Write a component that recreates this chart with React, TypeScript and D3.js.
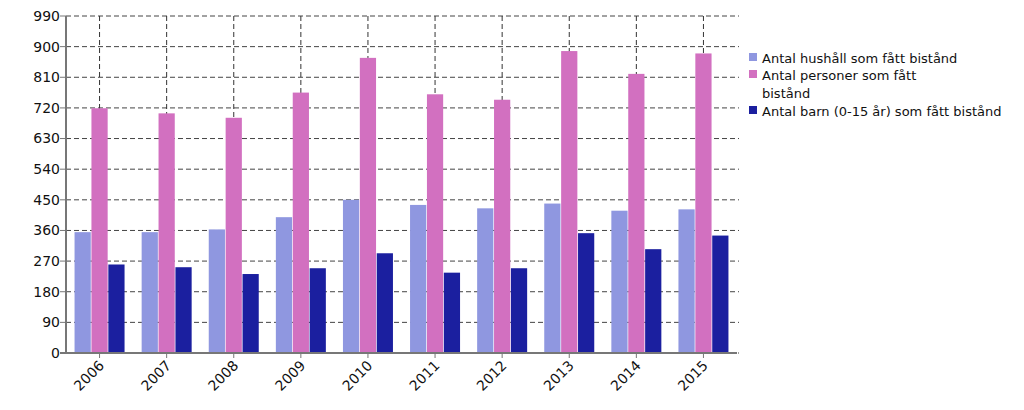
import React from "react";
import * as d3 from "d3";

const years = ["2006","2007","2008","2009","2010","2011","2012","2013","2014","2015"];
const hushall = [355, 355, 363, 399, 450, 435, 425, 439, 418, 422];
const personer = [719, 704, 691, 765, 867, 760, 744, 887, 820, 880];
const barn = [260, 252, 232, 249, 293, 236, 249, 352, 305, 345];
const yTicks = [0, 90, 180, 270, 360, 450, 540, 630, 720, 810, 900, 990];
const seriesNames = [
  ["Antal hushåll som fått bistånd"],
  ["Antal personer som fått", "bistånd"],
  ["Antal barn (0-15 år) som fått bistånd"],
];
const colors = ["#8f97e0", "#d270c0", "#1b1f9f"];

export default function App() {
  const W = 1024, H = 410;
  const left = 66, right = 737, top = 16, bottom = 353;
  const x = d3.scaleBand().domain(years).range([left, right]).paddingInner(0.25).paddingOuter(0.125);
  const step = (right - left) / years.length;
  const y = d3.scaleLinear().domain([0, 990]).range([bottom, top]);
  const series = [hushall, personer, barn];
  const groupW = 50;
  const x1 = d3.scaleBand().domain(["0", "1", "2"]).range([0, groupW]).paddingInner(0.04);
  const center = (yr: string) => left + step * (years.indexOf(yr) + 0.5);
  const font = "DejaVu Sans, Verdana, sans-serif";
  return (
    <svg width={W} height={H} style={{ position: "absolute", left: 0, top: 0 }} fontFamily={font}>
      <rect width={W} height={H} fill="#fff" />
      {yTicks.map((t) => (
        <line key={"h" + t} x1={left} x2={right + 2} y1={y(t)} y2={y(t)} stroke="#444" strokeDasharray="5,3" strokeWidth={1} />
      ))}
      {years.map((yr) => (
        <line key={"v" + yr} x1={center(yr)} x2={center(yr)} y1={top} y2={bottom} stroke="#333" strokeDasharray="5,3" strokeWidth={1} />
      ))}
      {years.map((yr, i) => (
        <g key={"g" + yr} transform={`translate(${center(yr) - groupW / 2},0)`}>
          {series.map((s, k) => (
            <rect key={k} x={x1(String(k))} y={y(s[i])} width={x1.bandwidth()} height={bottom - y(s[i])} fill={colors[k]} />
          ))}
        </g>
      ))}
      <line x1={left} x2={left} y1={top} y2={bottom + 1} stroke="#777" strokeWidth={2} />
      <line x1={left - 6} x2={right} y1={bottom} y2={bottom} stroke="#777" strokeWidth={2} />
      {yTicks.map((t) => (
        <g key={"yt" + t}>
          <line x1={left - 6} x2={left} y1={y(t)} y2={y(t)} stroke="#777" strokeWidth={1} />
          <text x={left - 6} y={y(t)} dy="0.35em" textAnchor="end" fontSize={14} fill="#111">{t}</text>
        </g>
      ))}
      {years.map((yr) => (
        <g key={"xt" + yr}>
          <line x1={center(yr)} x2={center(yr)} y1={bottom} y2={bottom + 5} stroke="#777" strokeWidth={1} />
          <text transform={`translate(${center(yr) + 2},${bottom + 10}) rotate(-45)`} textAnchor="end" dy="0.35em" fontSize={14} fill="#111">{yr}</text>
        </g>
      ))}
      {seriesNames.map((lines, k) => {
        const ys = [58, 75, 111][k];
        return (
          <g key={"l" + k}>
            <rect x={749} y={ys - 5} width={8} height={8} fill={colors[k]} />
            {lines.map((ln, j) => (
              <text key={j} x={762} y={ys + j * 18} dy="0.35em" fontSize={13} fill="#111">{ln}</text>
            ))}
          </g>
        );
      })}
    </svg>
  );
}
